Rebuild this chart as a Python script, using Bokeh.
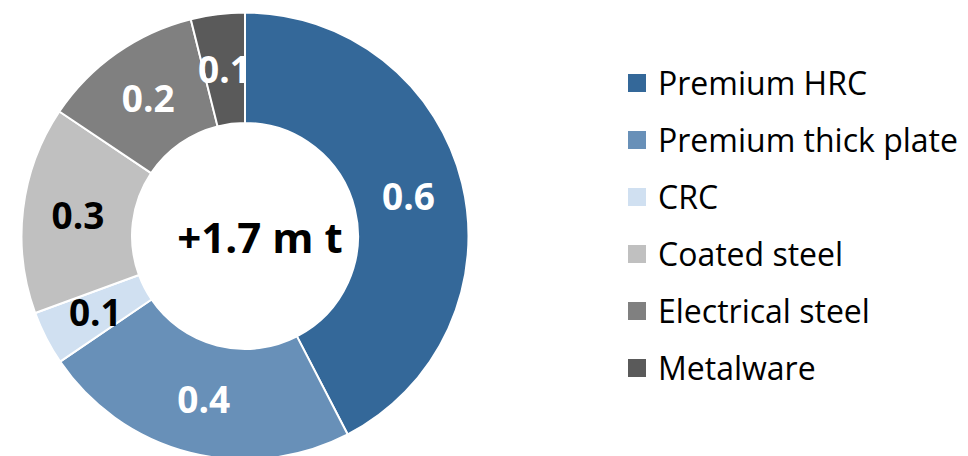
import numpy as np
from bokeh.plotting import figure
from bokeh.models import ColumnDataSource, Range1d, Legend, LegendItem
from bokeh.core.properties import value
from bokeh.embed import file_html
from bokeh.resources import INLINE

# ---- data ----
categories = ["Premium HRC", "Premium thick plate", "CRC", "Coated steel", "Electrical steel", "Metalware"]
shares = [42.4, 23.1, 3.9, 15.0, 11.7, 3.9]          # share of ring (%)
labels = ["0.6", "0.4", "0.1", "0.3", "0.2", "0.1"]  # displayed values (m t)
total_label = "+1.7 m t"
colors = ["#346899", "#6890B8", "#D0E0F1", "#C0C0C0", "#808080", "#5A5A5A"]
label_colors = ["white", "white", "black", "black", "white", "white"]

# ---- geometry (pixel-like data space) ----
W, H = 968, 456
cx, cy = 244.5, H - 235.5
r_out, r_in = 223.5, 113

frac = np.array(shares) / np.sum(shares)
cum = np.cumsum(frac)
prev = np.concatenate([[0], cum[:-1]])
start = np.pi / 2 - 2 * np.pi * cum
end = np.pi / 2 - 2 * np.pi * prev
mid = (start + end) / 2
r_lab = (r_out + r_in) / 2

src = ColumnDataSource(dict(cat=categories, start=start, end=end, color=colors))
lab = ColumnDataSource(dict(x=cx + r_lab * np.cos(mid), y=cy + r_lab * np.sin(mid),
                            t=labels, c=label_colors))

p = figure(width=W, height=H, output_backend="svg", toolbar_location=None,
           x_range=Range1d(0, W), y_range=Range1d(0, H), min_border=0,
           outline_line_color=None)
p.axis.visible = False
p.grid.visible = False

ring = p.annular_wedge(x=cx, y=cy, inner_radius=r_in, outer_radius=r_out,
                       start_angle="start", end_angle="end", fill_color="color",
                       line_color="white", line_width=2, source=src)

p.text(x="x", y="y", text="t", text_color="c", source=lab, text_align="center",
       text_baseline="middle", text_font=value("Open Sans"), text_font_style="bold",
       text_font_size="37px")

p.text(x=[cx], y=[cy], text=[total_label], x_offset=15, text_align="center",
       text_baseline="middle", text_font=value("Open Sans"), text_font_style="bold",
       text_font_size="42px", text_color="black")

legend = Legend(items=[LegendItem(label=c, renderers=[ring], index=i) for i, c in enumerate(categories)],
                location=(624, 66.5))
legend.glyph_width = 25
legend.glyph_height = 25
legend.label_height = 44
legend.spacing = 13
legend.label_standoff = 9
legend.padding = 0
legend.margin = 0
legend.border_line_color = None
legend.background_fill_alpha = 0
legend.label_text_font = "Open Sans"
legend.label_text_font_size = "32px"
legend.label_text_color = "black"
p.add_layout(legend, "center")

open("out.html", "w").write(file_html(p, INLINE))
